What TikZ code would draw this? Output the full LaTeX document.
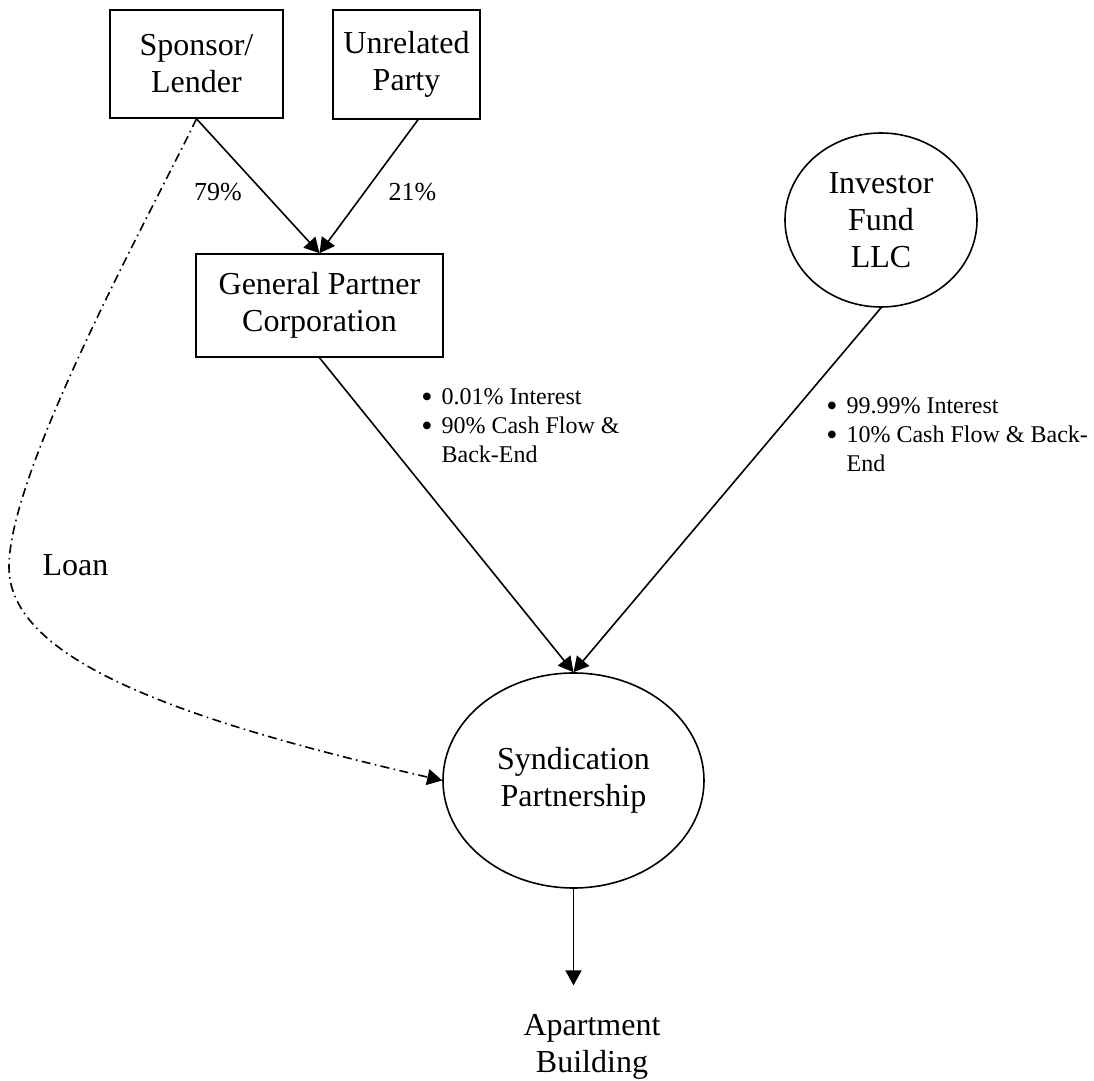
\documentclass[tikz,border=0pt]{standalone}
\usepackage{fontspec}
\setmainfont{Liberation Serif}
\usetikzlibrary{arrows.meta, shapes.geometric}

\newcommand{\bul}{\raisebox{-1.3pt}{\fontsize{16}{14.5}\selectfont\textbullet}}

\begin{document}
\begin{tikzpicture}[
    x=0.5pt, y=0.5pt,
    >={Triangle[length=7.5pt, width=8pt]},
    every node/.style={font=\fontsize{16}{18.5}\selectfont},
    box/.style={rectangle, draw, line width=0.8pt, align=center, inner sep=2pt},
    oval/.style={ellipse, draw, line width=0.8pt, align=center, inner sep=0pt},
    lbl/.style={align=center},
    pct/.style={font=\fontsize{13}{15}\selectfont},
    note/.style={anchor=north west, inner sep=0pt, font=\fontsize{12}{14.5}\selectfont},
    arr/.style={->, line width=0.8pt},
    loanarr/.style={->, line width=0.8pt, dash pattern=on 4.5pt off 2.2pt on 0.8pt off 2.2pt}
  ]
  \useasboundingbox (0,0) rectangle (1094,-1081);

  % owners of the GP
  \node[box, minimum width=86.5pt, minimum height=54pt] (spon) at (196.5,-64) {Sponsor/\\Lender};
  \node[box, minimum width=73.5pt, minimum height=54.5pt] (unrel) at (406.5,-64.5) {Unrelated\\Party};
  \node[box, minimum width=123.5pt, minimum height=51.5pt] (gp) at (319.5,-305.5) {General Partner\\Corporation};

  \node[oval, minimum width=96pt, minimum height=87pt] (inv) at (881,-220) {Investor\\Fund\\LLC};
  \node[oval, minimum width=130.5pt, minimum height=107.5pt] (synd) at (573.5,-780.5) {Syndication\\Partnership};
  \node[lbl] (apt) at (592,-1047) {Apartment\\Building};

  \node[pct] (l79) at (218,-192) {79\%};
  \node[pct] (l21) at (412.5,-192) {21\%};
  \node[lbl] (loan) at (75.5,-565) {Loan};

  \node[note] (gpnote) at (421,-384) {\begin{tabular}{@{}l@{\hspace{4.5pt}}l@{}}
      \bul & 0.01\% Interest\\
      \bul & 90\% Cash Flow \&\\
      & Back-End
    \end{tabular}};
  \node[note] (invnote) at (826,-393) {\begin{tabular}{@{}l@{\hspace{4.5pt}}l@{}}
      \bul & 99.99\% Interest\\
      \bul & 10\% Cash Flow \& Back-\\
      & End
    \end{tabular}};

  \draw[arr] (spon.south) -- (gp.north);
  \draw[arr] ([xshift=5.75pt]unrel.south) -- (gp.north);
  \draw[arr] (gp.south) -- (synd.north);
  \draw[arr] (inv.south) -- (synd.north);
  \draw[arr, shorten >=11pt] (synd.south) -- (synd.south |- apt.north);
  % loan from sponsor straight into the partnership
  \draw[loanarr] (spon.south) .. controls (150,-215) and (9,-470) .. (9,-567)
    .. controls (9,-660) and (180,-720) .. (synd.west);
\end{tikzpicture}
\end{document}
